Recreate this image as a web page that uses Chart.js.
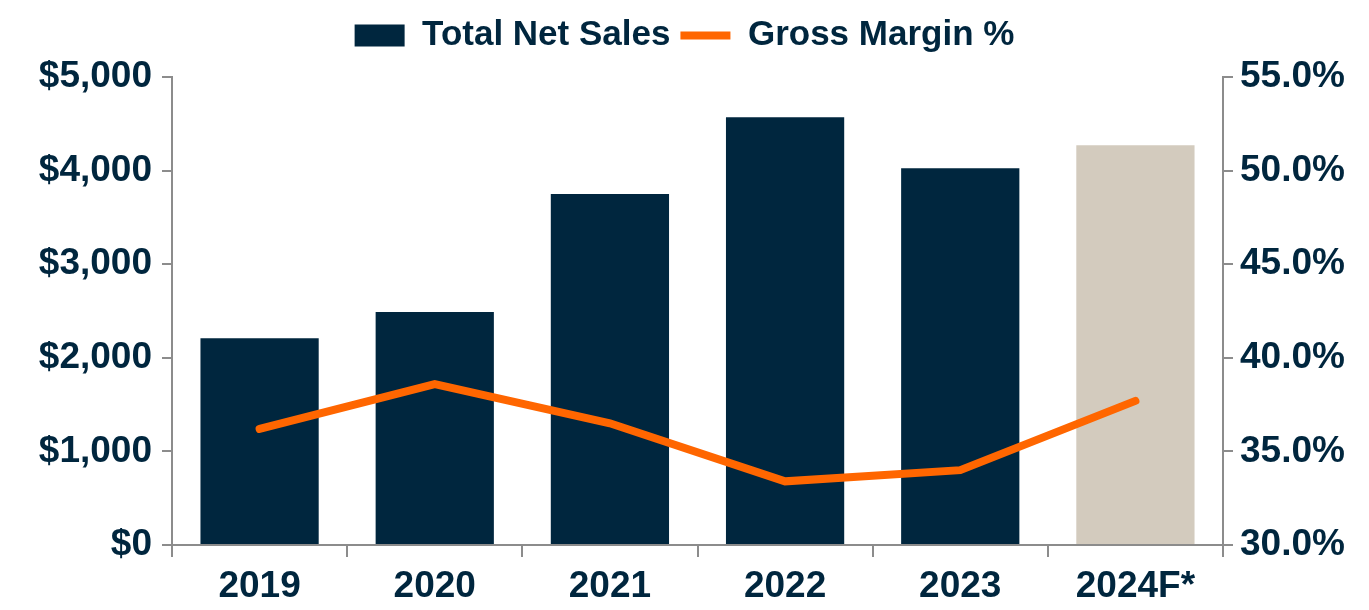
<!DOCTYPE html>
<html>
<head>
<meta charset="utf-8">
<script src="https://cdn.jsdelivr.net/npm/chart.js@4"></script>
<style>
  html, body { margin: 0; padding: 0; background: #fff; }
  #wrap { width: 1369px; height: 610px; }
</style>
</head>
<body>
<div id="wrap"><canvas id="chart" width="1369" height="610"></canvas></div>
<script>
const years = ["2019", "2020", "2021", "2022", "2023", "2024F*"];
const netSales = [2210, 2490, 3750, 4570, 4025, 4270];
const grossMargin = [36.2, 38.6, 36.5, 33.4, 34.0, 37.7];
const barColors = ["#00263E", "#00263E", "#00263E", "#00263E", "#00263E", "#D3CBBE"];

const navy = "#00263E";
const axisGrey = "#8C8C8C";
const font = "'Liberation Sans', Arial, sans-serif";

// keep the plot area starting at the same height as the reference
const legendHeight = {
  id: "legendHeight",
  beforeInit(chart) {
    const fit = chart.legend.fit;
    chart.legend.fit = function () {
      fit.bind(chart.legend)();
      this.height = 69;
    };
  }
};

new Chart(document.getElementById("chart"), {
  type: "bar",
  data: {
    labels: years,
    datasets: [
      {
        type: "bar",
        label: "Total Net Sales",
        data: netSales,
        backgroundColor: barColors,
        yAxisID: "y",
        order: 1,
        barPercentage: 0.675,
        categoryPercentage: 1
      },
      {
        type: "line",
        label: "Gross Margin %",
        data: grossMargin,
        borderColor: "#FF6600",
        backgroundColor: "#FF6600",
        borderWidth: 8,
        borderCapStyle: "round",
        pointRadius: 0,
        tension: 0,
        yAxisID: "y1",
        order: 0
      }
    ]
  },
  options: {
    responsive: false,
    animation: false,
    layout: { padding: { left: 0, right: 0, top: 8, bottom: 0 } },
    plugins: {
      legend: {
        position: "top",
        labels: {
          usePointStyle: true,
          pointStyleWidth: 50,
          boxHeight: 22,
          padding: 10,
          color: navy,
          font: { family: font, size: 35, weight: "bold" },
          sort: (a, b) => a.datasetIndex - b.datasetIndex,
          generateLabels(chart) {
            const items = Chart.defaults.plugins.legend.labels.generateLabels(chart);
            items.forEach(it => {
              if (it.datasetIndex === 0) {
                it.pointStyle = "rect";
                it.fillStyle = navy;
                it.strokeStyle = navy;
                it.lineWidth = 0;
              } else {
                it.pointStyle = "line";
                it.strokeStyle = "#FF6600";
                it.lineWidth = 8;
              }
            });
            return items;
          }
        }
      },
      tooltip: { enabled: false }
    },
    scales: {
      x: {
        afterFit(scale) { scale.height = 65; },
        grid: {
          offset: true,
          drawOnChartArea: false,
          drawTicks: true,
          tickLength: 12,
          color: axisGrey,
          lineWidth: 2
        },
        border: { display: true, color: axisGrey, width: 2 },
        ticks: {
          color: navy,
          padding: 8,
          font: { family: font, size: 37, weight: "bold" }
        }
      },
      y: {
        position: "left",
        min: 0,
        max: 5000,
        afterFit(scale) { scale.width = 172; },
        grid: {
          drawOnChartArea: false,
          tickLength: 10,
          color: axisGrey,
          lineWidth: 2
        },
        border: { display: true, color: axisGrey, width: 2 },
        ticks: {
          stepSize: 1000,
          color: navy,
          padding: 10,
          font: { family: font, size: 37, weight: "bold" },
          callback: v => "$" + v.toLocaleString("en-US")
        }
      },
      y1: {
        position: "right",
        min: 30,
        max: 55,
        afterFit(scale) { scale.width = 146; },
        grid: {
          drawOnChartArea: false,
          tickLength: 10,
          color: axisGrey,
          lineWidth: 2
        },
        border: { display: true, color: axisGrey, width: 2 },
        ticks: {
          stepSize: 5,
          color: navy,
          padding: 7,
          font: { family: font, size: 37, weight: "bold" },
          callback: v => v.toFixed(1) + "%"
        }
      }
    }
  },
  plugins: [legendHeight]
});
</script>
</body>
</html>
